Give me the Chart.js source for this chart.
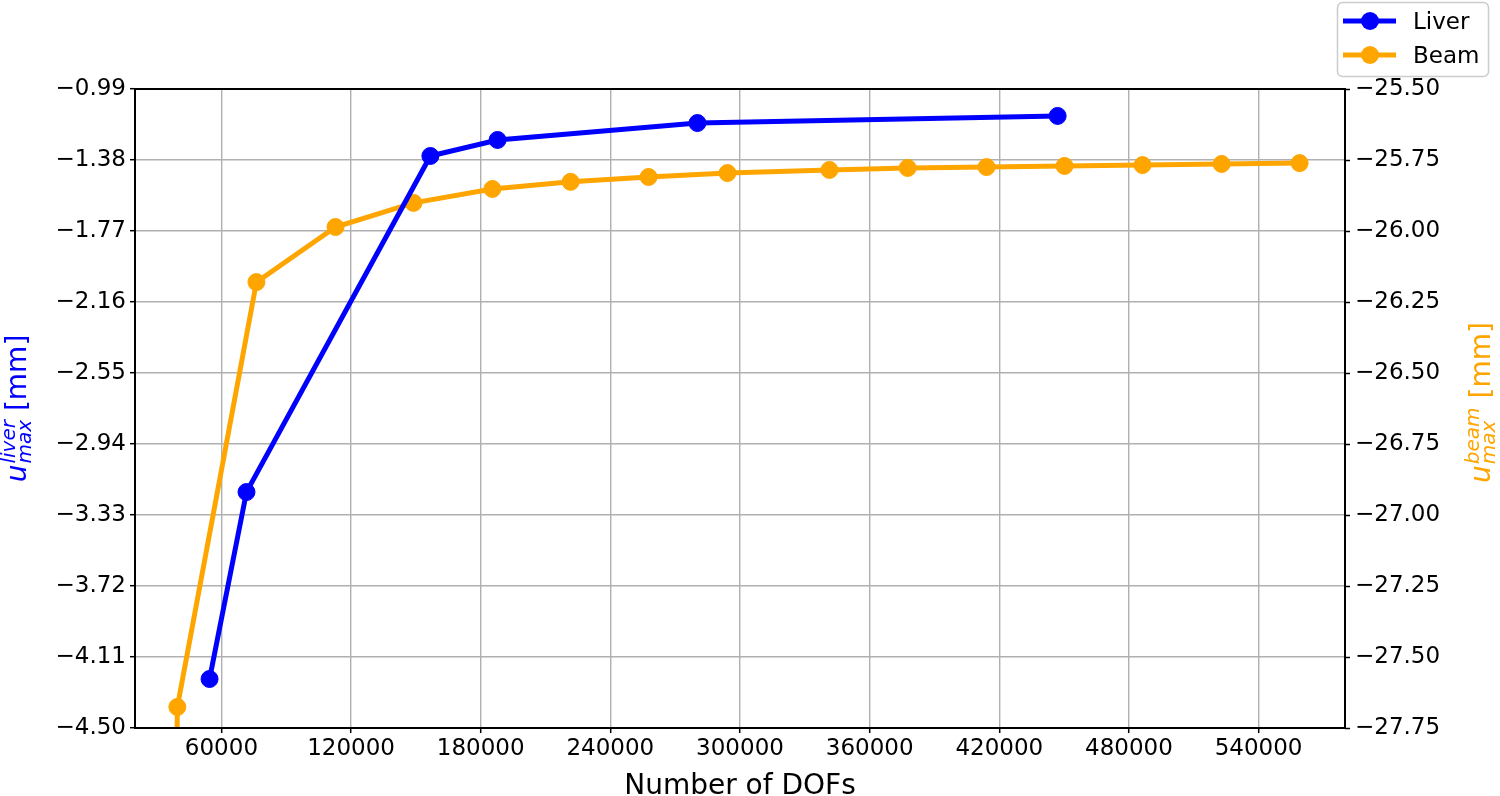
<!DOCTYPE html>
<html>
<head>
<meta charset="utf-8">
<script src="https://cdn.jsdelivr.net/npm/chart.js@4.4.0/dist/chart.umd.min.js"></script>
<style>
  html, body { margin: 0; padding: 0; background: #fff; }
  #wrap { width: 1500px; height: 796px; }
</style>
</head>
<body>
<div id="wrap"><canvas id="dofChart" width="1500" height="796"></canvas></div>
<script>
// Number of DOFs vs. max displacement
const liverDofs = [54500, 71600, 156700, 187800, 280300, 447000];
const liverValues = [-4.231, -3.204, -1.358, -1.270, -1.177, -1.138];

// first beam point lies below the visible range (line runs off the bottom)
const beamDofs = [37000, 39600, 76200, 112800, 148900, 185400, 221600, 257700, 294200, 341400, 377600, 414100, 450200, 486300, 522900, 559000];
const beamValues = [-29.5, -27.676, -26.180, -25.986, -25.901, -25.852, -25.827, -25.810, -25.796, -25.785, -25.778, -25.775, -25.771, -25.768, -25.764, -25.761];

const xTicks = [60000, 120000, 180000, 240000, 300000, 360000, 420000, 480000, 540000];
const liverTicks = [-0.99, -1.38, -1.77, -2.16, -2.55, -2.94, -3.33, -3.72, -4.11, -4.50];
const beamTicks = [-25.50, -25.75, -26.00, -26.25, -26.50, -26.75, -27.00, -27.25, -27.50, -27.75];

const BLUE = '#0000ff';
const ORANGE = '#ffa500';
const FONT = 'DejaVu Sans';
const tickFont = { family: FONT, size: 23 };

const toPoints = (xs, ys) => xs.map((x, i) => ({ x: x, y: ys[i] }));
const fmtMinus = v => v.toFixed(2).replace('-', '\u2212');

// axis titles with super/subscripts, frame and legend
const decorations = {
  id: 'decorations',
  afterDatasetsDraw(chart) {
    const ctx = chart.ctx;
    const a = chart.chartArea;
    ctx.save();
    ctx.strokeStyle = '#000';
    ctx.lineWidth = 2;
    ctx.strokeRect(a.left, a.top, a.right - a.left, a.bottom - a.top);
    ctx.restore();
  },
  afterDraw(chart) {
    const ctx = chart.ctx;
    const a = chart.chartArea;
    const midY = (a.top + a.bottom) / 2;

    // x title
    ctx.save();
    ctx.fillStyle = '#000';
    ctx.font = '28px "' + FONT + '"';
    ctx.textAlign = 'center';
    ctx.textBaseline = 'alphabetic';
    ctx.fillText('Number of DOFs', (a.left + a.right) / 2, 794);
    ctx.restore();

    drawMathLabel(ctx, 26, midY, 'liver', BLUE);
    drawMathLabel(ctx, 1490, midY - 6, 'beam', ORANGE);

    // legend
    const ds = chart.data.datasets;
    ctx.save();
    ctx.beginPath();
    ctx.roundRect(1337.5, 2.5, 151, 74, 5);
    ctx.fillStyle = 'rgba(255,255,255,0.8)';
    ctx.fill();
    ctx.strokeStyle = '#cccccc';
    ctx.lineWidth = 1.5;
    ctx.stroke();
    const rows = [29, 63];
    ds.forEach((d, i) => {
      const cy = rows[i] - 8;
      ctx.strokeStyle = d.borderColor;
      ctx.lineWidth = 5;
      ctx.beginPath();
      ctx.moveTo(1343, cy);
      ctx.lineTo(1396, cy);
      ctx.stroke();
      ctx.fillStyle = d.borderColor;
      ctx.beginPath();
      ctx.arc(1370, cy, 9, 0, Math.PI * 2);
      ctx.fill();
      ctx.fillStyle = '#000';
      ctx.font = '23px "' + FONT + '"';
      ctx.textAlign = 'left';
      ctx.textBaseline = 'alphabetic';
      ctx.fillText(d.label, 1413, rows[i]);
    });
    ctx.restore();
  }
};

function drawMathLabel(ctx, baseX, midY, sup, color) {
  const big = '28px "' + FONT + '"';
  const bigIt = 'oblique 28px "' + FONT + '"';
  const smallIt = 'oblique 20px "' + FONT + '"';
  ctx.save();
  ctx.font = bigIt;
  const wu = ctx.measureText('u').width + 1;
  ctx.font = smallIt;
  const wsup = ctx.measureText(sup).width;
  const wsub = ctx.measureText('max').width;
  ctx.font = big;
  const wunit = ctx.measureText(' [mm]').width;
  const total = wu + Math.max(wsup, wsub) + wunit;

  ctx.translate(baseX, midY);
  ctx.rotate(-Math.PI / 2);
  ctx.fillStyle = color;
  ctx.textAlign = 'left';
  ctx.textBaseline = 'alphabetic';
  let x = -total / 2;
  ctx.font = bigIt;
  ctx.fillText('u', x, 0);
  x += wu;
  ctx.font = smallIt;
  ctx.fillText(sup, x, -11);
  ctx.fillText('max', x, 5);
  x += Math.max(wsup, wsub);
  ctx.font = big;
  ctx.fillText(' [mm]', x, 0);
  ctx.restore();
}

function initDofChart() {
  const ctx = document.getElementById('dofChart').getContext('2d');
  new Chart(ctx, {
    type: 'line',
    data: {
      datasets: [{
        label: 'Liver',
        data: toPoints(liverDofs, liverValues),
        yAxisID: 'y',
        borderColor: BLUE,
        backgroundColor: BLUE,
        pointBackgroundColor: BLUE,
        pointBorderColor: BLUE,
        borderWidth: 5,
        pointRadius: 8.5,
        pointBorderWidth: 1,
        tension: 0,
        clip: 0
      }, {
        label: 'Beam',
        data: toPoints(beamDofs, beamValues),
        yAxisID: 'y1',
        borderColor: ORANGE,
        backgroundColor: ORANGE,
        pointBackgroundColor: ORANGE,
        pointBorderColor: ORANGE,
        borderWidth: 5,
        pointRadius: 8.5,
        pointBorderWidth: 1,
        tension: 0,
        clip: 0
      }]
    },
    options: {
      responsive: false,
      animation: false,
      devicePixelRatio: 1,
      layout: { padding: { top: 89, left: 0, right: 0, bottom: 0 } },
      plugins: {
        legend: { display: false },
        tooltip: { enabled: false }
      },
      scales: {
        x: {
          type: 'linear',
          min: 20000,
          max: 580000,
          afterBuildTicks: s => { s.ticks = xTicks.map(v => ({ value: v })); },
          afterFit: s => { s.height = 68; },
          ticks: {
            font: tickFont,
            color: '#000',
            padding: 2,
            maxRotation: 0,
            autoSkip: false,
            callback: v => String(v)
          },
          grid: { color: '#b0b0b0', lineWidth: 1.4, tickColor: '#000', tickWidth: 1.5, tickLength: 5 },
          border: { display: false }
        },
        y: {
          type: 'linear',
          position: 'left',
          min: -4.50,
          max: -0.99,
          afterBuildTicks: s => { s.ticks = liverTicks.map(v => ({ value: v })); },
          afterFit: s => { s.width = 135; },
          ticks: {
            font: tickFont,
            color: '#000',
            padding: 4,
            autoSkip: false,
            callback: v => fmtMinus(v)
          },
          grid: { color: '#b0b0b0', lineWidth: 1.4, tickColor: '#000', tickWidth: 1.5, tickLength: 5 },
          border: { display: false }
        },
        y1: {
          type: 'linear',
          position: 'right',
          min: -27.75,
          max: -25.50,
          afterBuildTicks: s => { s.ticks = beamTicks.map(v => ({ value: v })); },
          afterFit: s => { s.width = 155; },
          ticks: {
            font: tickFont,
            color: '#000',
            padding: 5,
            autoSkip: false,
            callback: v => fmtMinus(v)
          },
          grid: { drawOnChartArea: false, tickColor: '#000', tickWidth: 1.5, tickLength: 5 },
          border: { display: false }
        }
      }
    },
    plugins: [decorations]
  });
}

document.addEventListener('DOMContentLoaded', () => {
  initDofChart();
});
</script>
</body>
</html>
